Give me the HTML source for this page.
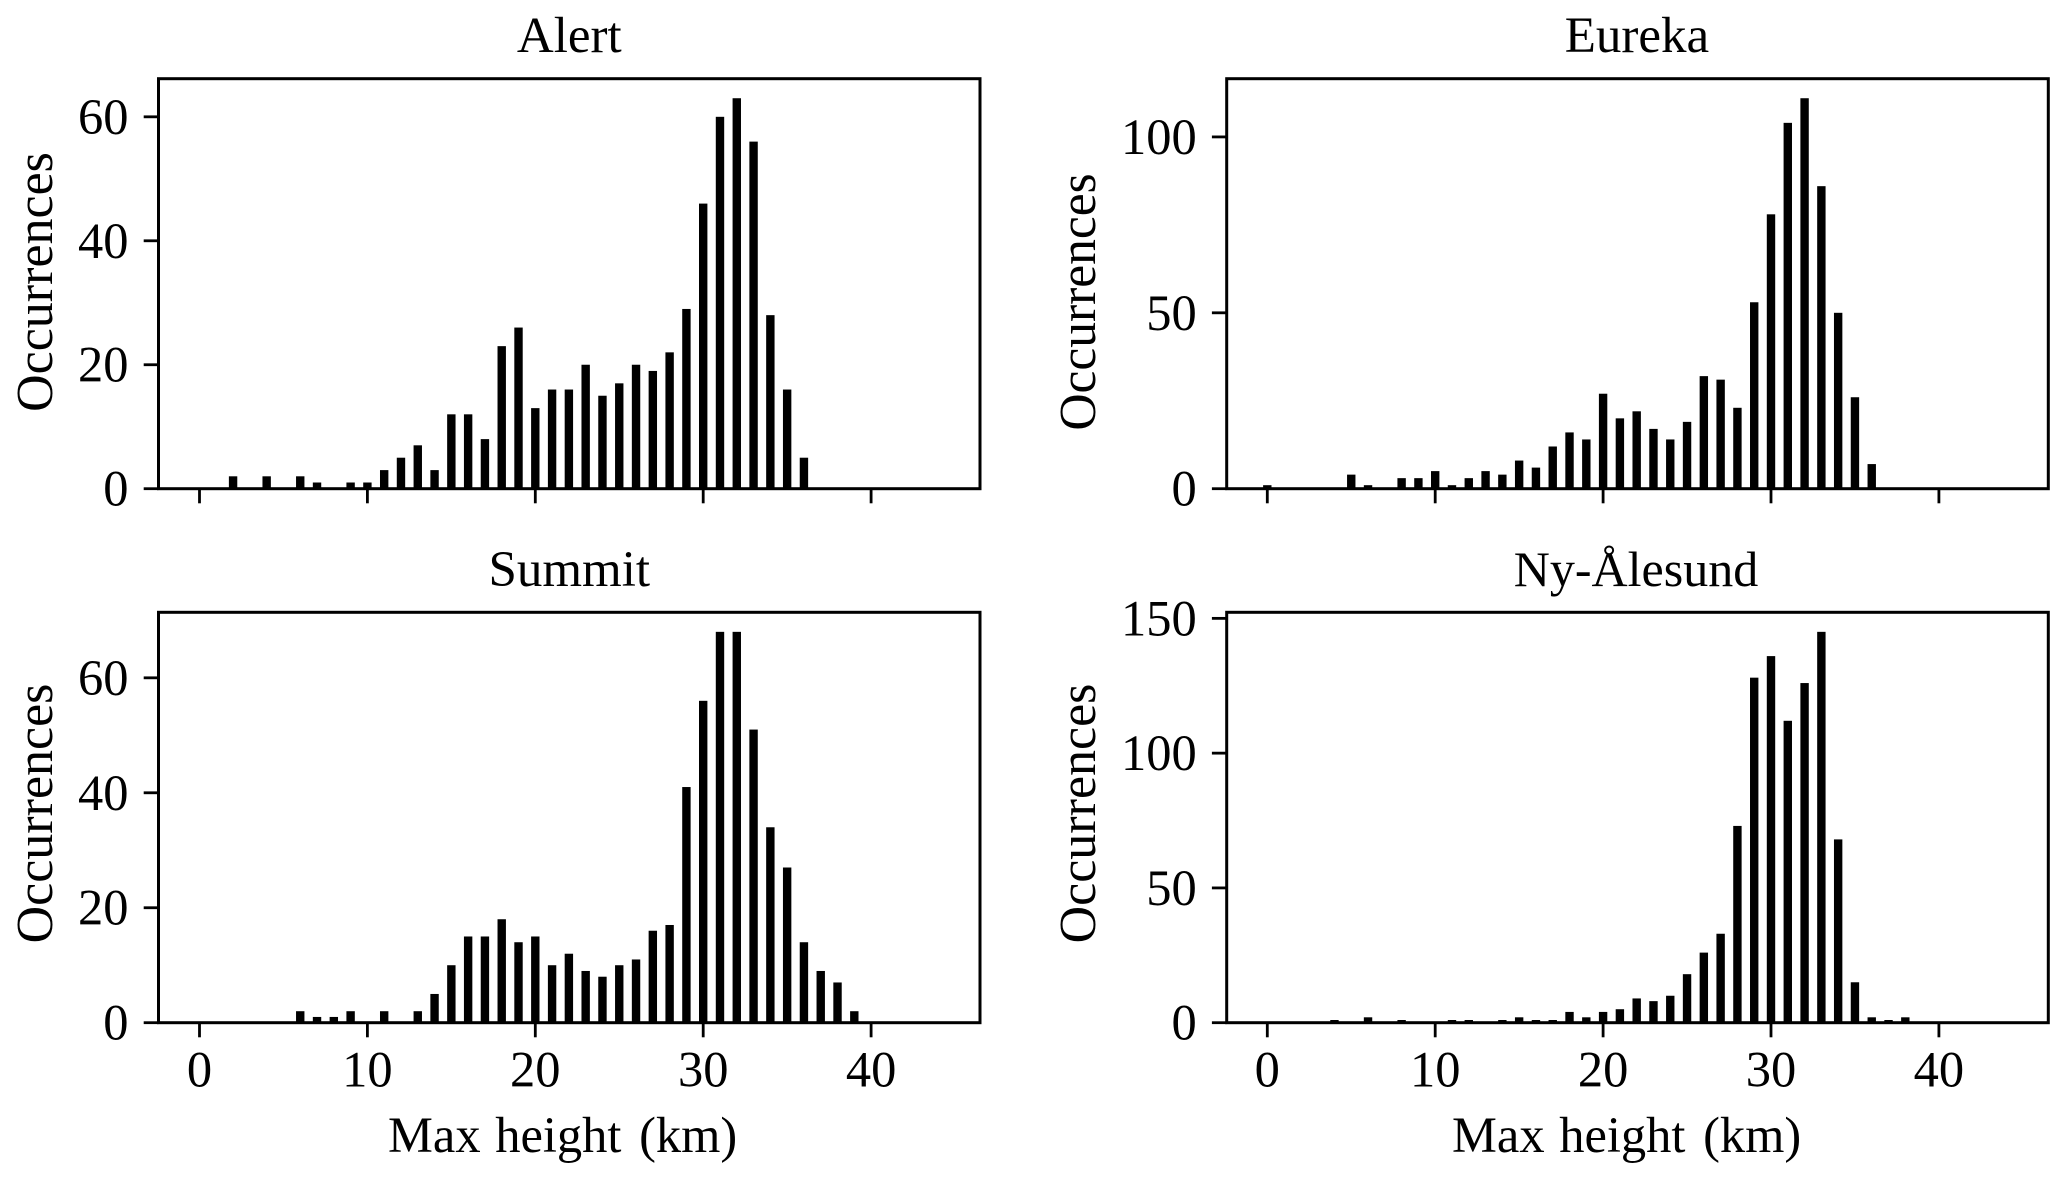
<!DOCTYPE html>
<html lang="en">
<head>
<meta charset="utf-8">
<title>Max height occurrences</title>
<style>
  html, body { margin: 0; padding: 0; background: #fff; }
  svg { display: block; }
  text { font-family: "Liberation Serif", "Times New Roman", serif; fill: #000; }
</style>
</head>
<body>
<svg id="figure" xmlns="http://www.w3.org/2000/svg" width="2067" height="1179" viewBox="0 0 2067 1179">
  <rect x="0" y="0" width="2067" height="1179" fill="#fff"/>

  <g id="panel-alert">
    <text x="569.3" y="52" font-size="51" text-anchor="middle">Alert</text>
    <text transform="translate(52 282) rotate(-90)" font-size="52" text-anchor="middle">Occurrences</text>
  </g>
  <g id="panel-eureka">
    <text x="1637" y="52" font-size="51" text-anchor="middle">Eureka</text>
    <text transform="translate(1095 302) rotate(-90)" font-size="51.5" text-anchor="middle">Occurrences</text>
  </g>
  <g id="panel-summit">
    <text x="569.3" y="586" font-size="51" text-anchor="middle">Summit</text>
    <text transform="translate(52 813.5) rotate(-90)" font-size="52" text-anchor="middle">Occurrences</text>
    <text x="388" y="1152" font-size="50.5">Max <tspan dx="2">height </tspan><tspan dx="5">(km)</tspan></text>
  </g>
  <g id="panel-ny-alesund">
    <text x="1636" y="586" font-size="50" text-anchor="middle">Ny-Ålesund</text>
    <text transform="translate(1095 813.5) rotate(-90)" font-size="52" text-anchor="middle">Occurrences</text>
    <text x="1452" y="1152" font-size="50.5">Max <tspan dx="2">height </tspan><tspan dx="5">(km)</tspan></text>
  </g>
</svg>

<script>
// Chart data
const heights = [0,1,2,3,4,5,6,7,8,9,10,11,12,13,14,15,16,17,18,19,20,21,22,23,24,25,26,27,28,29,30,31,32,33,34,35,36,37,38,39];
const alertCounts = [0,0,2,0,2,0,2,1,0,1,1,3,5,7,3,12,12,8,23,26,13,16,16,20,15,17,20,19,22,29,46,60,63,56,28,16,5,0,0,0];
const eurekaCounts = [1,0,0,0,0,4,1,0,3,3,5,1,3,5,4,8,6,12,16,14,27,20,22,17,14,19,32,31,23,53,78,104,111,86,50,26,7,0,0,0];
const summitCounts = [0,0,0,0,0,0,2,1,1,2,0,2,0,2,5,10,15,15,18,14,15,10,12,9,8,10,11,16,17,41,56,68,68,51,34,27,14,9,7,2];
const nyAlesundCounts = [0,0,0,0,1,0,2,0,1,0,0,1,1,0,1,2,1,1,4,2,4,5,9,8,10,18,26,33,73,128,136,112,126,145,68,15,2,1,2,0];
const xTickValues = [0,10,20,30,40];
const alertYTicks = [0,20,40,60];
const eurekaYTicks = [0,50,100];
const summitYTicks = [0,20,40,60];
const nyAlesundYTicks = [0,50,100,150];

const SVG_NS = 'http://www.w3.org/2000/svg';
const PX_PER_KM = 16.79;
const BAR_WIDTH_KM = 0.5;

function svgEl(tag, parent) {
  const el = document.createElementNS(SVG_NS, tag);
  parent.appendChild(el);
  return el;
}

function drawPanel(panelId, slug, counts, yTicks, box, showXLabels) {
  const g = document.getElementById(panelId);
  const yMax = Math.max.apply(null, counts) * 1.05;
  const xScale = function (v) { return box.x0 + v * PX_PER_KM; };
  const yScale = function (v) { return box.bottom - v * (box.bottom - box.top) / yMax; };

  counts.forEach(function (c, i) {
    if (c <= 0) return;
    const bar = svgEl('rect', g);
    
    
    bar.setAttribute('x', xScale(heights[i] - BAR_WIDTH_KM / 2));
    bar.setAttribute('y', yScale(c));
    bar.setAttribute('width', BAR_WIDTH_KM * PX_PER_KM);
    bar.setAttribute('height', box.bottom - yScale(c));
    bar.setAttribute('fill', '#000');
  });

  const frame = svgEl('rect', g);
  
  
  frame.setAttribute('x', box.left);
  frame.setAttribute('y', box.top);
  frame.setAttribute('width', box.right - box.left);
  frame.setAttribute('height', box.bottom - box.top);
  frame.setAttribute('fill', 'none');
  frame.setAttribute('stroke', '#000');
  frame.setAttribute('stroke-width', '3');

  xTickValues.forEach(function (v) {
    const tick = svgEl('line', g);
    
    
    tick.setAttribute('x1', xScale(v));
    tick.setAttribute('x2', xScale(v));
    tick.setAttribute('y1', box.bottom);
    tick.setAttribute('y2', box.bottom + 14.6);
    tick.setAttribute('stroke', '#000');
    tick.setAttribute('stroke-width', '2.8');
    if (showXLabels) {
      const label = svgEl('text', g);
      
      
      label.setAttribute('x', xScale(v));
      label.setAttribute('y', box.bottom + 64);
      label.setAttribute('font-size', '50.5');
      label.setAttribute('text-anchor', 'middle');
      label.textContent = String(v);
    }
  });

  yTicks.forEach(function (v) {
    const tick = svgEl('line', g);
    
    
    tick.setAttribute('x1', box.left - 14.8);
    tick.setAttribute('x2', box.left);
    tick.setAttribute('y1', yScale(v));
    tick.setAttribute('y2', yScale(v));
    tick.setAttribute('stroke', '#000');
    tick.setAttribute('stroke-width', '2.8');
    const label = svgEl('text', g);
    
    
    label.setAttribute('x', box.left - 30);
    label.setAttribute('y', yScale(v) + 17);
    label.setAttribute('font-size', '50.5');
    label.setAttribute('text-anchor', 'end');
    label.textContent = String(v);
  });
}

drawPanel('panel-alert', 'alert', alertCounts, alertYTicks, {left: 158.5, right: 980, top: 78.7, bottom: 488.7, x0: 199.5}, false);
drawPanel('panel-eureka', 'eureka', eurekaCounts, eurekaYTicks, {left: 1226.7, right: 2048.3, top: 78.7, bottom: 488.7, x0: 1267.3}, false);
drawPanel('panel-summit', 'summit', summitCounts, summitYTicks, {left: 158.5, right: 980, top: 612.3, bottom: 1022.7, x0: 199.5}, true);
drawPanel('panel-ny-alesund', 'ny-alesund', nyAlesundCounts, nyAlesundYTicks, {left: 1226.7, right: 2048.3, top: 612.3, bottom: 1022.7, x0: 1267.3}, true);
</script>
</body>
</html>
